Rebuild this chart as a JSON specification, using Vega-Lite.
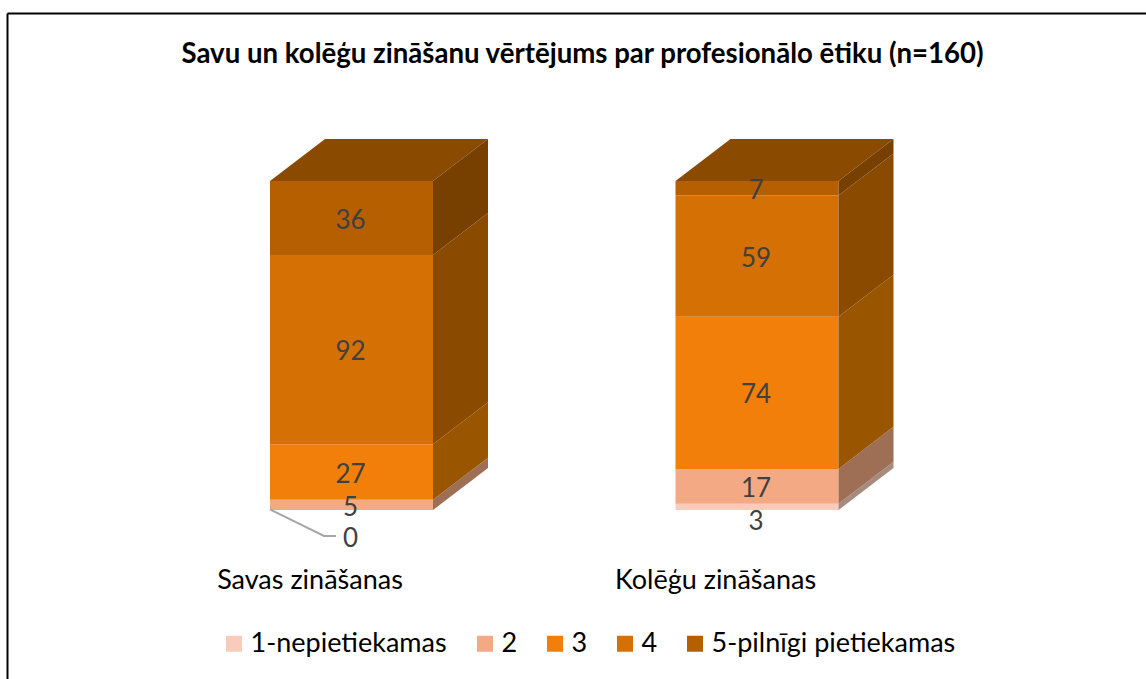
{
"$schema":"https://vega.github.io/schema/vega-lite/v6.json",
"width":1139,"height":666,"autosize":"none","padding":{"left":7,"top":13,"right":0,"bottom":0},
"background":"white",
"title":{"text":"Savu un kolēģu zināšanu vērtējums par profesionālo ētiku (n=160)","orient":"top","anchor":"middle","offset":-56,"dx":6,"font":"Lato","fontWeight":"bold","fontSize":27.6,"color":"#000000"},
"config":{"view":{"stroke":null},"font":"Lato","axis":{"labels":false,"ticks":false,"grid":false,"domain":true,"domainColor":"#000000","domainWidth":2,"title":null}},
"data":{"values":[
{"cat":"Savas zināšanas","rating":"1-nepietiekamas","value":0},
{"cat":"Savas zināšanas","rating":"2","value":5},
{"cat":"Savas zināšanas","rating":"3","value":27},
{"cat":"Savas zināšanas","rating":"4","value":92},
{"cat":"Savas zināšanas","rating":"5-pilnīgi pietiekamas","value":36},
{"cat":"Kolēģu zināšanas","rating":"1-nepietiekamas","value":3},
{"cat":"Kolēģu zināšanas","rating":"2","value":17},
{"cat":"Kolēģu zināšanas","rating":"3","value":74},
{"cat":"Kolēģu zināšanas","rating":"4","value":59},
{"cat":"Kolēģu zināšanas","rating":"5-pilnīgi pietiekamas","value":7}
]},
"transform":[
{"stack":"value","groupby":["cat"],"sort":[{"field":"rating","order":"ascending"}],"as":["v0","v1"]},
{"calculate":"datum.cat==='Savas zināšanas'?270:675.5","as":"left"},
{"calculate":"datum.left+163","as":"right"}
],
"layer":[
{"mark":{"type":"rect"},
 "encoding":{"x":{"field":"left","type":"quantitative","scale":{"domain":[7,1146],"nice":false,"zero":false},"axis":{"orient":"top"}},"x2":{"field":"right"},
 "y":{"field":"v0","type":"quantitative","scale":{"domain":[-82.2,241.73],"nice":false,"zero":false},"axis":{"orient":"left"}},"y2":{"field":"v1"},
 "color":{"field":"rating","type":"nominal","scale":{"domain":["1-nepietiekamas","2","3","4","5-pilnīgi pietiekamas"],"range":["#F8CBBA","#F4A985","#F27F09","#D57005","#B55F01"]},
  "legend":{"title":null,"orient":"none","legendX":213.5,"legendY":617,"direction":"horizontal","symbolType":"square","symbolSize":256,"labelFont":"Lato","labelFontSize":27,"labelLimit":400,"labelColor":"#000000","columnPadding":24,"labelOffset":3}}}},
{"transform":[{"filter":"datum.rating==='5-pilnīgi pietiekamas'"},{"calculate":"[0,55,163,218]","as":"k"},{"flatten":["k"]},
 {"calculate":"datum.left+datum.k","as":"px"},
 {"calculate":"160+20.43*min(datum.k/55,1,(218-datum.k)/55+1)","as":"up"},
 {"calculate":"160+(datum.k>163?20.43:0)","as":"lo"}],
 "mark":{"type":"area","orient":"vertical","color":"#8A4B00"},
 "encoding":{"x":{"field":"px","type":"quantitative","axis":{"orient":"top"}},
 "y":{"field":"up","type":"quantitative"},
 "y2":{"field":"lo"},"detail":{"field":"cat"}}},
{"transform":[{"calculate":"[0,1]","as":"k"},{"flatten":["k"]},
 {"calculate":"datum.right+55*datum.k","as":"px"},
 {"calculate":"datum.v0+20.43*datum.k","as":"sa"},
 {"calculate":"datum.v1+20.43*datum.k","as":"sb"}],
 "mark":{"type":"area","orient":"vertical"},
 "encoding":{"x":{"field":"px","type":"quantitative","axis":{"orient":"top"}},
 "y":{"field":"sa","type":"quantitative"},"y2":{"field":"sb"},
 "fill":{"field":"rating","type":"nominal","legend":null,"scale":{"domain":["1-nepietiekamas","2","3","4","5-pilnīgi pietiekamas"],"range":["#A68A7E","#9E6E55","#9A5500","#8A4A00","#773F00"]}},
 "detail":{"field":"cat"}}},
{"transform":[{"filter":"datum.value===0"},{"calculate":"[0,1,2]","as":"k"},{"flatten":["k"]},
 {"calculate":"datum.left+(datum.k===0?0:datum.k===1?54:66)","as":"px"},
 {"calculate":"datum.k===0?0.3:-12.6","as":"py"}],
 "mark":{"type":"line","color":"#A6A6A6","strokeWidth":2},
 "encoding":{"x":{"field":"px","type":"quantitative","axis":{"orient":"top"}},"y":{"field":"py","type":"quantitative"}}},
{"transform":[{"calculate":"datum.value===0?-13.9:datum.value===3?-5.7:(datum.v0+datum.v1)/2-1.3","as":"ly"},{"calculate":"datum.left+80.5","as":"lx"}],
 "mark":{"type":"text","font":"Lato","fontSize":26,"color":"#404040","align":"center","baseline":"middle"},
 "encoding":{"x":{"field":"lx","type":"quantitative","axis":{"orient":"top"}},"y":{"field":"ly","type":"quantitative"},"text":{"field":"value","type":"quantitative"}}},
{"transform":[{"filter":"datum.rating==='1-nepietiekamas'"},{"calculate":"datum.left+40","as":"lx"},{"calculate":"-34.5","as":"ly"}],
 "mark":{"type":"text","font":"Lato","fontSize":27,"color":"#000000","align":"center","baseline":"middle"},
 "encoding":{"x":{"field":"lx","type":"quantitative","axis":{"orient":"top"}},"y":{"field":"ly","type":"quantitative"},"text":{"field":"cat","type":"nominal"}}}
]
}
